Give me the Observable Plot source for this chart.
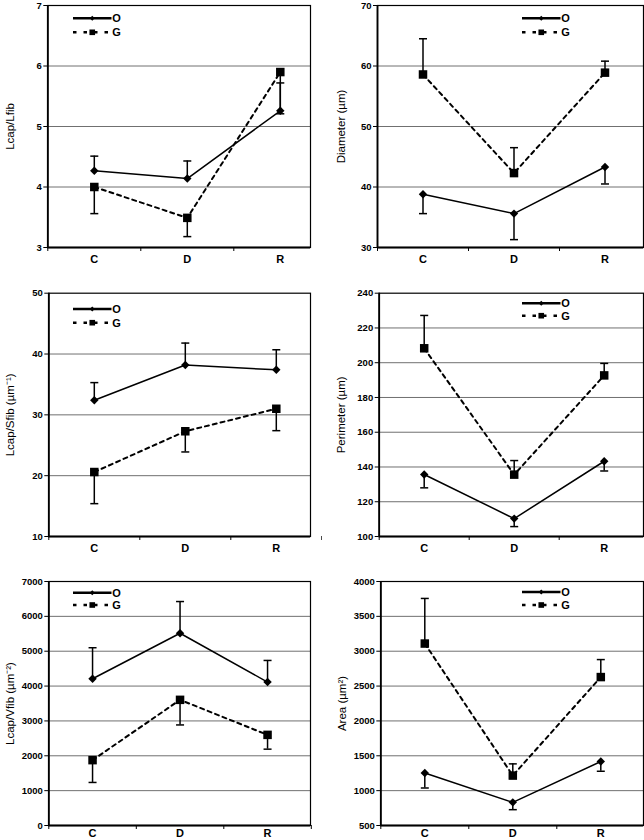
<!DOCTYPE html>
<html><head><meta charset="utf-8">
<script src="https://cdn.jsdelivr.net/npm/d3@7"></script>
<script src="https://cdn.jsdelivr.net/npm/@observablehq/plot@0.6"></script>
<style>
body{margin:0;background:#fff;}
#grid{display:grid;grid-template-columns:322px 322px;grid-template-rows:280px 280px 280px;width:644px;height:840px;}
#grid svg{display:block;}
</style></head><body><div id="grid"></div>
<script>
// ---- data ----
const categories = ["C", "D", "R"];
const seriesNames = ["O", "G"];

// Lcap/Lfib
const lcapLfibLabel = "Lcap/Lfib";
const lcapLfibTicks = [3, 4, 5, 6, 7];
const lcapLfibO = [4.27, 4.14, 5.26];
const lcapLfibOErr = [0.24, 0.29, 0.46];
const lcapLfibG = [4.00, 3.49, 5.90];
const lcapLfibGErr = [0.44, 0.31, 0.69];

// Diameter
const diameterLabel = "Diameter (µm)";
const diameterTicks = [30, 40, 50, 60, 70];
const diameterO = [38.8, 35.6, 43.3];
const diameterOErr = [3.2, 4.3, 2.8];
const diameterG = [58.6, 42.3, 58.9];
const diameterGErr = [5.9, 4.2, 1.9];

// Lcap/Sfib
const lcapSfibLabel = "Lcap/Sfib (µm⁻¹)";
const lcapSfibTicks = [10, 20, 30, 40, 50];
const lcapSfibO = [32.4, 38.2, 37.4];
const lcapSfibOErr = [2.9, 3.6, 3.3];
const lcapSfibG = [20.6, 27.3, 31.0];
const lcapSfibGErr = [5.2, 3.4, 3.6];

// Perimeter
const perimeterLabel = "Perimeter (µm)";
const perimeterTicks = [100, 120, 140, 160, 180, 200, 220, 240];
const perimeterO = [135.7, 110.3, 143.3];
const perimeterOErr = [7.7, 4.6, 5.6];
const perimeterG = [208.3, 135.6, 192.7];
const perimeterGErr = [18.9, 8.1, 6.9];

// Lcap/Vfib
const lcapVfibLabel = "Lcap/Vfib (µm⁻²)";
const lcapVfibTicks = [0, 1000, 2000, 3000, 4000, 5000, 6000, 7000];
const lcapVfibO = [4210, 5515, 4115];
const lcapVfibOErr = [890, 910, 620];
const lcapVfibG = [1875, 3605, 2600];
const lcapVfibGErr = [640, 720, 410];

// Area
const areaLabel = "Area (µm²)";
const areaTicks = [500, 1000, 1500, 2000, 2500, 3000, 3500, 4000];
const areaO = [1254, 832, 1418];
const areaOErr = [216, 105, 140];
const areaG = [3110, 1216, 2629];
const areaGErr = [647, 168, 251];

// error bar direction per series (+1 up, -1 down)
const panels = [
  {label: lcapLfibLabel, ticks: lcapLfibTicks, values: [lcapLfibO, lcapLfibG], errs: [lcapLfibOErr, lcapLfibGErr], dirs: [1, -1]},
  {label: diameterLabel, ticks: diameterTicks, values: [diameterO, diameterG], errs: [diameterOErr, diameterGErr], dirs: [-1, 1]},
  {label: lcapSfibLabel, ticks: lcapSfibTicks, values: [lcapSfibO, lcapSfibG], errs: [lcapSfibOErr, lcapSfibGErr], dirs: [1, -1]},
  {label: perimeterLabel, ticks: perimeterTicks, values: [perimeterO, perimeterG], errs: [perimeterOErr, perimeterGErr], dirs: [-1, 1]},
  {label: lcapVfibLabel, ticks: lcapVfibTicks, values: [lcapVfibO, lcapVfibG], errs: [lcapVfibOErr, lcapVfibGErr], dirs: [1, -1]},
  {label: areaLabel, ticks: areaTicks, values: [areaO, areaG], errs: [areaOErr, areaGErr], dirs: [-1, 1]}
];

// ---- layout (pixels) ----
const layouts = [
  {left: 47.3, right: 310, top: 5, bottom: 247, bw: 93, labelX: 10, legendX: 73, legendY: [13.3, 27.3], catPad: 8},
  {left: 55, right: 321, top: 5, bottom: 247, bw: 91, labelX: 18.5, legendX: 200, legendY: [13.3, 27.3], catPad: 8},
  {left: 48.3, right: 310, top: 12.7, bottom: 256, bw: 91, labelX: 10, legendX: 73, legendY: [16.3, 30], catPad: 8},
  {left: 56.7, right: 321, top: 12.7, bottom: 256, bw: 90, labelX: 18.5, legendX: 200, legendY: [10.6, 23], catPad: 8},
  {left: 48.3, right: 310, top: 21, bottom: 265, bw: 87.5, labelX: 10, legendX: 73, legendY: [11.7, 24], catPad: 4},
  {left: 58.3, right: 321, top: 21, bottom: 265, bw: 88, labelX: 19.5, legendX: 200, legendY: [11, 24], catPad: 4}
];

const capSymbol = {
  draw(context, size) {
    const r = Math.sqrt(size / Math.PI);
    context.moveTo(-r, 0);
    context.lineTo(r, 0);
  }
};

function legendMark(lay) {
  return () => {
    const g = d3.create("svg:g");
    seriesNames.forEach((s, k) => {
      const y = lay.top + lay.legendY[k];
      const x0 = lay.legendX, x1 = lay.legendX + 38.5, mx = (x0 + x1) / 2;
      g.append("line").attr("x1", x0).attr("x2", x1).attr("y1", y).attr("y2", y)
        .attr("stroke", "black").attr("stroke-width", k ? 2.4 : 2.6)
        .attr("stroke-dasharray", k ? "3.5,7" : null);
      if (k === 0) {
        g.append("path").attr("d", d3.symbol(d3.symbolDiamond2, 16)())
          .attr("transform", `translate(${mx},${y})`).attr("fill", "black");
      } else {
        g.append("rect").attr("x", mx - 2.8).attr("y", y - 2.8).attr("width", 5.6).attr("height", 5.6).attr("fill", "black");
      }
      g.append("text").attr("x", x1 + 5).attr("y", y).attr("dy", "0.36em")
        .attr("font-size", 11).attr("font-weight", "bold").attr("fill", "black").text(s);
    });
    return g.node();
  };
}

function makePanel(p, lay) {
  const rows = [];
  seriesNames.forEach((s, si) => {
    categories.forEach((c, i) => {
      const v = p.values[si][i];
      rows.push({series: s, i, value: v, end: v + p.dirs[si] * p.errs[si][i]});
    });
  });
  const O = rows.filter(d => d.series === "O");
  const G = rows.filter(d => d.series === "G");
  const t = p.ticks;
  return Plot.plot({
    width: 322, height: 280,
    marginLeft: lay.left, marginRight: 322 - lay.right,
    marginTop: lay.top, marginBottom: 280 - lay.bottom,
    style: {fontFamily: "Arial, 'Liberation Sans', sans-serif", background: "white", color: "black"},
    x: {type: "linear", domain: [-0.5, 2.5], range: [lay.left, lay.left + 3 * lay.bw]},
    y: {type: "linear", domain: [t[0], t[t.length - 1]]},
    marks: [
      Plot.ruleY(t.slice(1, -1), {stroke: "#707070", strokeWidth: 1}),
      Plot.frame({stroke: "black", strokeWidth: 1.2}),
      Plot.ruleX([-0.5], {stroke: "black", strokeWidth: 1.8}),
      Plot.ruleY([t[0]], {stroke: "black", strokeWidth: 1.8}),
      Plot.axisY(t, {tickSize: 4, tickPadding: 2, fontSize: 9.5, fontWeight: "bold", tickFormat: d3.format("d"), label: null}),
      Plot.axisX([-0.5, 0.5, 1.5, 2.5], {tickSize: 4, tickFormat: () => "", label: null}),
      Plot.axisX([0, 1, 2], {tickSize: 0, tickPadding: lay.catPad, fontSize: 11, fontWeight: "bold", tickFormat: i => categories[i], label: null}),
      Plot.text([p.label], {frameAnchor: "left", dx: lay.labelX - lay.left, rotate: -90, fontSize: 11.5, textAnchor: "middle", text: d => d, fill: "black"}),
      Plot.ruleX(rows, {x: "i", y1: "value", y2: "end", stroke: "black", strokeWidth: 1.5}),
      Plot.dot(rows, {x: "i", y: "end", symbol: capSymbol, r: 4, stroke: "black", strokeWidth: 1.5, fill: "none"}),
      Plot.line(O, {x: "i", y: "value", stroke: "black", strokeWidth: 1.5}),
      Plot.line(G, {x: "i", y: "value", stroke: "black", strokeWidth: 2, strokeDasharray: "4,4"}),
      Plot.dot(O, {x: "i", y: "value", symbol: "diamond2", r: 3.8, fill: "black", stroke: "none"}),
      Plot.dot(G, {x: "i", y: "value", symbol: "square", r: 4.8, fill: "black", stroke: "none"}),
      legendMark(lay)
    ]
  });
}

const grid = document.getElementById("grid");
panels.forEach((p, k) => grid.appendChild(makePanel(p, layouts[k])));
</script>
</body></html>
